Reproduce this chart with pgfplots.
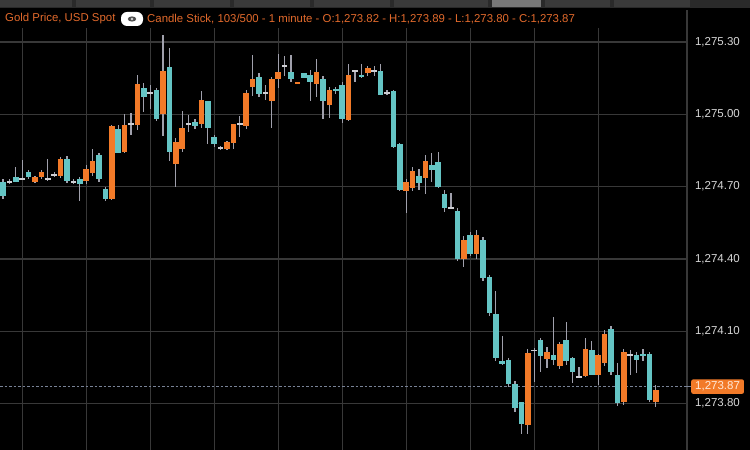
\documentclass[border=0pt]{standalone}
\usepackage{pgfplots}
\pgfplotsset{compat=1.18}
\usepackage{pgfplotstable}
\usepackage{fontspec}
\setmainfont{Liberation Sans}

\definecolor{upc}{RGB}{242,122,40}
\definecolor{dnc}{RGB}{100,196,196}
\definecolor{dojic}{RGB}{205,205,210}
\definecolor{wickc}{RGB}{160,160,172}
\definecolor{gridc}{RGB}{56,56,56}
\definecolor{hdrc}{RGB}{226,106,44}
\definecolor{lblc}{RGB}{215,215,215}
\definecolor{barc}{RGB}{42,42,42}
\definecolor{tabc}{RGB}{58,58,58}
\definecolor{tabhi}{RGB}{120,120,120}
\definecolor{lastc}{RGB}{120,130,150}
\definecolor{lasttxt}{RGB}{255,232,215}
\newcommand\lab{\fontsize{11.5}{13}\selectfont}
\newcommand\hdr{\fontsize{11.4}{13}\selectfont}

% 1-minute candles, index = minute, orange = close above open
\pgfplotstableread{
i o h l c
5 1274.73 1274.75 1274.72 1274.75
6 1274.74 1274.77 1274.73 1274.76
9 1274.76 1274.84 1274.75 1274.83
13 1274.73 1274.79 1274.71 1274.78
14 1274.77 1274.86 1274.75 1274.82
17 1274.66 1274.96 1274.65 1274.96
19 1274.85 1275.01 1274.85 1274.96
21 1274.96 1275.18 1274.95 1275.13
25 1275.01 1275.34 1274.92 1275.19
27 1274.80 1274.90 1274.70 1274.89
28 1274.86 1275.02 1274.85 1274.95
31 1274.96 1275.10 1274.95 1275.06
35 1274.86 1274.90 1274.86 1274.89
36 1274.88 1274.96 1274.87 1274.96
38 1274.96 1275.11 1274.95 1275.10
39 1275.13 1275.26 1275.09 1275.16
42 1275.06 1275.16 1274.95 1275.15
43 1275.15 1275.25 1275.11 1275.18
46 1275.14 1275.15 1275.14 1275.15
49 1275.13 1275.23 1275.07 1275.18
51 1275.05 1275.12 1274.99 1275.11
54 1274.99 1275.22 1274.98 1275.18
57 1275.18 1275.21 1275.17 1275.20
63 1274.69 1274.74 1274.60 1274.73
64 1274.71 1274.79 1274.69 1274.78
66 1274.73 1274.84 1274.68 1274.80
72 1274.41 1274.50 1274.37 1274.49
74 1274.42 1274.53 1274.41 1274.50
82 1273.72 1274.03 1273.68 1274.02
85 1274.00 1274.04 1273.95 1274.03
87 1273.97 1274.07 1273.96 1274.06
91 1273.93 1274.08 1273.92 1274.04
93 1273.92 1274.01 1273.88 1274.00
94 1273.98 1274.12 1273.97 1274.10
97 1273.81 1274.03 1273.80 1274.02
102 1273.82 1273.89 1273.80 1273.87
}\upcandles

\pgfplotstableread{
i o h l c
0 1274.72 1274.73 1274.65 1274.66
2 1274.75 1274.78 1274.72 1274.73
4 1274.76 1274.77 1274.73 1274.74
10 1274.82 1274.83 1274.72 1274.73
12 1274.73 1274.74 1274.64 1274.71
15 1274.83 1274.84 1274.72 1274.73
16 1274.70 1274.71 1274.65 1274.66
18 1274.95 1274.96 1274.85 1274.85
22 1275.12 1275.13 1275.01 1275.08
24 1275.11 1275.12 1274.98 1274.99
26 1275.20 1275.28 1274.81 1274.85
30 1274.98 1274.99 1274.95 1274.96
32 1275.05 1275.06 1274.89 1274.94
33 1274.91 1274.92 1274.87 1274.88
40 1275.16 1275.17 1275.07 1275.09
45 1275.19 1275.25 1275.14 1275.16
47 1275.18 1275.18 1275.16 1275.16
48 1275.17 1275.19 1275.06 1275.14
50 1275.16 1275.16 1274.98 1275.07
52 1275.11 1275.12 1275.09 1275.10
53 1275.13 1275.14 1274.97 1274.99
56 1275.18 1275.21 1275.15 1275.17
59 1275.19 1275.21 1275.09 1275.09
61 1275.10 1275.11 1274.87 1274.87
62 1274.88 1274.89 1274.69 1274.69
65 1274.76 1274.78 1274.69 1274.73
67 1274.80 1274.84 1274.72 1274.78
68 1274.80 1274.84 1274.69 1274.70
69 1274.68 1274.69 1274.60 1274.62
71 1274.61 1274.62 1274.40 1274.41
73 1274.50 1274.51 1274.41 1274.42
75 1274.49 1274.50 1274.32 1274.33
76 1274.33 1274.34 1274.17 1274.18
77 1274.18 1274.28 1273.99 1274.00
78 1273.99 1274.09 1273.97 1273.98
79 1273.98 1273.99 1273.87 1273.88
80 1273.89 1273.90 1273.77 1273.79
81 1273.81 1273.82 1273.69 1273.72
84 1274.07 1274.08 1273.94 1274.00
86 1274.00 1274.17 1273.97 1273.98
88 1274.07 1274.15 1273.97 1273.98
89 1273.99 1274.00 1273.89 1273.93
92 1274.03 1274.06 1273.92 1273.93
95 1274.11 1274.12 1273.92 1273.93
96 1273.93 1273.98 1273.80 1273.81
99 1274.01 1274.03 1273.94 1273.99
100 1274.01 1274.03 1273.98 1274.00
101 1274.01 1274.02 1273.81 1273.82
}\dncandles

\pgfplotstableread{
i o h l c
1 1274.73 1274.74 1274.72 1274.73
3 1274.74 1274.81 1274.73 1274.74
7 1274.74 1274.82 1274.73 1274.74
8 1274.76 1274.77 1274.75 1274.76
11 1274.73 1274.74 1274.72 1274.73
20 1274.97 1275.02 1274.93 1274.97
23 1275.09 1275.12 1275.02 1275.09
29 1274.97 1275.01 1274.94 1274.97
34 1274.87 1274.88 1274.86 1274.87
37 1274.97 1275.00 1274.91 1274.97
41 1275.09 1275.12 1275.06 1275.09
44 1275.21 1275.25 1275.17 1275.21
55 1275.18 1275.20 1275.15 1275.18
58 1275.19 1275.21 1275.17 1275.19
60 1275.10 1275.11 1275.09 1275.10
70 1274.62 1274.68 1274.61 1274.62
83 1274.02 1274.03 1273.89 1274.02
90 1273.92 1273.95 1273.91 1273.92
98 1274.01 1274.03 1273.93 1274.01
}\dojicandles

\pgfplotsset{
  wick/.style={draw=none, mark=none, forget plot,
    error bars/.cd, y dir=both, y explicit, error mark=none,
    error bar style={draw=wickc, line width=1.3pt}},
  body/.style={draw=none, mark=none, forget plot,
    error bars/.cd, y dir=both, y explicit, error mark=none,
    error bar style={draw=#1, line width=5.5pt}},
}

\begin{document}
\begin{tikzpicture}
\fill[black] (0,0) rectangle (750pt,450pt);
% toolbar strip at the top
\fill[barc] (0,442pt) rectangle (750pt,450pt);
\foreach \xa/\xb in {0/72,76/150,154/230,234/310,314/390,394/488,545/610,614/690}
  \fill[tabc] (\xa pt,443pt) rectangle (\xb pt,450pt);
\fill[tabhi] (492pt,443pt) rectangle (541pt,450pt);

% header line
\node[anchor=west, inner sep=0, text=hdrc, font=\hdr] at (5pt,431pt) {Gold Price, USD Spot};
\fill[white, rounded corners=6pt] (121pt,424pt) rectangle (143pt,438pt);
\fill[gray!60!black] (132pt,431pt) ellipse (4.2pt and 2.6pt);
\fill[white] (132pt,431pt) circle (1.3pt);
\fill[gray!60!black] (132pt,431pt) circle (0.7pt);
\node[anchor=west, inner sep=0, text=hdrc, font=\hdr] at (147pt,431pt)
  {Candle Stick, 103/500 - 1 minute - O:1,273.82 - H:1,273.89 - L:1,273.80 - C:1,273.87};

\draw[gridc, line width=1.3pt] (687pt,0) -- (687pt,440pt);

\begin{axis}[
  at={(0,0)}, anchor=south west,
  width=687pt, height=422pt, scale only axis,
  xmin=-0.469, xmax=106.875,
  ymin=1273.607, ymax=1275.358,
  axis line style={draw=none},
  xtick={3,13,...,93}, xticklabels={},
  ytick={1273.8,1274.1,1274.4,1274.7,1275.0,1275.3},
  yticklabels={{1,273.80},{1,274.10},{1,274.40},{1,274.70},{1,275.00},{1,275.30}},
  yticklabel pos=right,
  yticklabel style={anchor=west, xshift=4.5pt, font=\lab, text=lblc},
  major tick length=0pt,
  grid=major, grid style={gridc, line width=1.3pt},
]
\addplot[draw=lastc, line width=0.8pt, dash pattern=on 2.5pt off 2pt, forget plot]
  coordinates {(-0.469,1273.87) (106.875,1273.87)};

\addplot[wick] table[x=i, y expr={(\thisrow{h}+\thisrow{l})/2},
  y error expr={(\thisrow{h}-\thisrow{l})/2}] {\upcandles};
\addplot[wick] table[x=i, y expr={(\thisrow{h}+\thisrow{l})/2},
  y error expr={(\thisrow{h}-\thisrow{l})/2}] {\dncandles};
\addplot[wick] table[x=i, y expr={(\thisrow{h}+\thisrow{l})/2},
  y error expr={(\thisrow{h}-\thisrow{l})/2}] {\dojicandles};

\addplot[body=upc] table[x=i, y expr={(\thisrow{o}+\thisrow{c})/2},
  y error expr={abs(\thisrow{c}-\thisrow{o})/2}] {\upcandles};
\addplot[body=dnc] table[x=i, y expr={(\thisrow{o}+\thisrow{c})/2},
  y error expr={abs(\thisrow{c}-\thisrow{o})/2}] {\dncandles};
\addplot[body=dojic] table[x=i, y expr={(\thisrow{o}+\thisrow{c})/2},
  y error expr={0.004}] {\dojicandles};

\coordinate (lp) at (axis cs:106.875,1273.87);
\end{axis}

\draw[lastc, line width=0.8pt] (lp) -- ++(4pt,0);
\node[anchor=west, fill=upc, rounded corners=2pt, text=lasttxt,
  font=\lab, inner xsep=4pt, inner ysep=2.5pt] at ([xshift=4pt]lp) {1,273.87};

\pgfresetboundingbox
\path[use as bounding box] (0,0) rectangle (750pt,450pt);
\end{tikzpicture}
\end{document}
